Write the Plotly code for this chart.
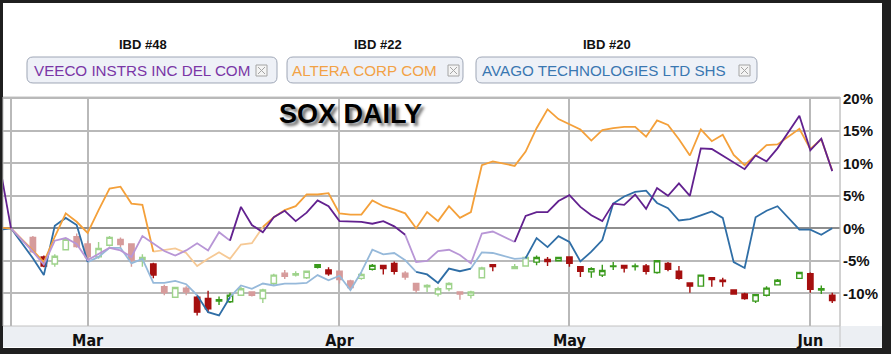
import plotly.graph_objects as go

# ---------------- data ----------------
FEB = [17, 18, 22, 23, 24, 25, 28]
MAR = [1, 2, 3, 4, 7, 8, 9, 10, 11, 14, 15, 16, 17, 18, 21, 22, 23, 24, 25, 28, 29, 30, 31]
APR = [1, 4, 5, 6, 7, 8, 11, 12, 13, 14, 15, 18, 19, 20, 21, 25, 26, 27, 28, 29]
MAY = [2, 3, 4, 5, 6, 9, 10, 11, 12, 13, 16, 17, 18, 19, 20, 23, 24, 25, 26, 27, 31]
JUN = [1, 2, 3]
DATES = ([f"2011-02-{d:02d}" for d in FEB] + [f"2011-03-{d:02d}" for d in MAR] +
         [f"2011-04-{d:02d}" for d in APR] + [f"2011-05-{d:02d}" for d in MAY] +
         [f"2011-06-{d:02d}" for d in JUN])

# % change, VEECO INSTRS INC DEL COM
VEECO = ([9.4, 0, -3.6, -5.6, -1.9, -1.5, -2.4] +
         [-4.9, -4.0, -3.0, -3.4, -4.4, -1.2, -2.4, -3.5, -4.2, -3.4, -2.3, -3.4, -0.6, -1.9,
          3.3, 0.5, -0.6, 1.7, 2.7, 1.1, 2.4, 4.3, 3.4] +
         [1.1, 1.1, 1.0, 0.7, 1.1, 0.3, -1.0, -5.2, -5.0, -3.5, -3.3, -4.1, -5.4, -0.8, -0.5,
          -2.1, 1.9, 2.5, 2.5, 4.2] +
         [5.1, 3.3, 2.0, 1.1, 3.8, 3.6, 5.2, 3.0, 6.2, 5.0, 6.9, 5.0, 12.3, 12.2, 11.2, 10.2,
          9.1, 11.2, 10.3, 12.3, 17.3] +
         [12.0, 13.8, 8.8])
# % change, ALTERA CORP COM
ALTERA = ([0.1, 0, -3.4, -5.2, -1.3, 2.3, 1.0] +
          [-0.7, 2.8, 6.1, 6.4, 3.8, 3.6, -3.6, -3.3, -3.1, -3.8, -5.8, -4.7, -3.7, -4.7,
           -2.5, -2.3, 0.2, 1.7, 2.8, 3.4, 5.2, 5.2, 5.4] +
          [2.3, 2.1, 2.1, 4.3, 3.4, 2.9, 2.3, 0.0, 2.5, 1.1, 3.4, 1.6, 2.5, 9.7, 10.3, 9.6,
           11.8, 15.4, 18.3, 16.8] +
          [16.0, 15.2, 13.5, 15.1, 15.4, 15.6, 15.6, 14.1, 16.6, 15.9, 13.7, 11.2, 15.2, 13.4,
           14.4, 11.3, 9.7, 11.3, 12.8, 12.9, 15.3] +
          [12.2, 13.7, 8.9])
# % change, AVAGO TECHNOLOGIES LTD SHS
AVAGO = ([-0.2, 0, -4.6, -7.2, 0.4, 1.6, 0.5] +
         [-5.2, -4.4, -3.0, -3.0, -5.4, -4.7, -8.4, -8.4, -8.1, -8.6, -10.3, -12.9, -13.4,
          -10.6, -8.8, -9.3, -8.5, -8.8, -8.5, -8.5, -8.4, -7.2, -8.0] +
         [-7.3, -9.5, -6.7, -3.3, -4.0, -3.8, -4.9, -6.7, -7.1, -8.4, -6.2, -6.6, -6.2, -3.7,
          -3.8, -4.7, -4.6, -1.5, -2.9, -1.2] +
         [-2.1, -5.1, -3.6, -1.8, 3.8, 4.9, 5.6, 5.8, 3.9, 3.1, 1.2, 1.4, 2.0, 2.6, 1.6, -5.2,
          -6.1, 1.7, 2.7, 3.4, -0.2] +
         [-0.2, -1.0, 0.0])

# SOX daily candles (same % scale), from Feb 22
SOX_DATES = DATES[2:]
SOX_OPEN = ([-1.4, -4.4, -5.5, -3.3, -1.3] +
            [-2.4, -4.4, -2.6, -1.7, -2.4, -4.8, -5.5, -9.0, -10.6, -9.2, -10.6, -10.8, -11.2,
             -11.3, -10.3, -9.8, -10.8, -8.5, -6.9, -7.2, -7.6, -6.0, -6.4] +
            [-6.6, -8.1, -7.7, -6.3, -5.7, -5.4, -6.9, -8.5, -9.0, -10.1, -9.3, -9.8, -10.3,
             -7.6, -5.6, -6.2, -5.8, -5.2, -4.8, -5.0] +
            [-4.4, -5.9, -6.7, -7.2, -5.9, -5.7, -5.9, -5.8, -6.8, -5.4, -6.6, -8.4, -8.9,
             -7.6, -8.0, -9.5, -10.1, -11.2, -10.3, -8.7, -7.7] +
            [-7.0, -9.5, -10.3])
SOX_HIGH = ([-1.2, -4.2, -4.0, -1.6, -0.8] +
            [-1.9, -2.1, -1.2, -1.4, -2.3, -4.0, -5.3, -8.7, -9.0, -8.9, -10.4, -9.6, -10.5,
             -9.9, -9.0, -9.7, -9.3, -7.0, -6.4, -6.6, -6.5, -5.5, -6.0] +
            [-6.5, -7.9, -6.8, -5.5, -5.6, -5.1, -6.6, -8.4, -8.6, -9.0, -8.3, -9.8, -9.6,
             -5.9, -5.5, -5.5, -4.3, -4.2, -4.4, -4.4] +
            [-4.3, -5.8, -6.0, -5.6, -5.2, -5.7, -5.4, -5.5, -4.9, -5.2, -5.8, -8.3, -7.1,
             -7.6, -7.6, -9.4, -9.9, -10.1, -8.9, -7.8, -6.7] +
            [-6.8, -8.8, -9.9])
SOX_LOW = ([-3.8, -6.0, -5.9, -3.4, -3.0] +
           [-4.9, -4.7, -2.8, -3.0, -5.9, -5.9, -7.7, -10.3, -10.7, -10.3, -13.4, -13.0, -11.8,
            -11.5, -10.4, -10.5, -11.5, -8.8, -7.8, -7.4, -7.8, -6.2, -7.3] +
           [-8.5, -9.5, -7.9, -6.5, -7.1, -7.1, -7.9, -9.9, -9.8, -10.5, -9.7, -11.0, -10.8,
            -7.7, -6.6, -6.2, -5.9, -5.7, -5.8, -5.1] +
           [-5.9, -7.5, -7.6, -7.5, -6.4, -6.8, -6.5, -7.1, -7.0, -6.6, -7.9, -9.9, -9.0,
            -9.0, -9.0, -10.2, -11.0, -11.5, -10.5, -8.8, -7.8] +
           [-9.9, -10.1, -11.5])
SOX_CLOSE = ([-3.6, -5.8, -4.3, -1.7, -2.8] +
             [-4.4, -3.1, -1.4, -2.5, -4.9, -4.5, -7.2, -9.9, -9.1, -9.8, -12.9, -12.4, -11.0,
              -10.3, -9.3, -10.3, -9.5, -7.2, -7.4, -7.0, -6.6, -5.6, -7.0] +
             [-7.9, -9.1, -7.1, -5.7, -6.2, -6.6, -7.5, -9.5, -8.8, -9.3, -8.5, -10.1, -9.8,
              -6.1, -5.9, -5.9, -4.5, -4.5, -5.1, -4.5] +
             [-5.4, -6.6, -6.2, -6.5, -5.8, -6.1, -5.8, -6.6, -5.0, -6.3, -7.7, -8.9, -7.2,
              -7.9, -8.2, -10.1, -10.8, -10.2, -9.2, -8.0, -6.8] +
             [-9.4, -9.3, -11.1])

TICK_DATES = ["2011-02-18", "2011-03-01", "2011-04-01", "2011-05-02", "2011-06-01"]
TICK_TEXT = ["", "Mar", "Apr", "May", "Jun"]
Y_TICKS = [-10, -5, 0, 5, 10, 15, 20]
Y_TEXT = ["-10%", "-5%", "0%", "5%", "10%", "15%", "20%"]
NAMES = ["VEECO INSTRS INC DEL COM", "ALTERA CORP COM", "AVAGO TECHNOLOGIES LTD SHS"]
RANKS = ["IBD #48", "IBD #22", "IBD #20"]
TITLE = "SOX DAILY"

for arr in (VEECO, ALTERA, AVAGO):
    assert len(arr) == len(DATES)
for arr in (SOX_OPEN, SOX_HIGH, SOX_LOW, SOX_CLOSE):
    assert len(arr) == len(SOX_DATES)

# ---------------- styling ----------------
W, H = 891, 354
PL, PR, PT, PB = 3, 840, 97, 326   # plot area in pixels


def px(x):
    return (x - PL) / (PR - PL)


def py(y):
    return (PB - y) / (PB - PT)


COL = {
    "veeco": {"dark": "#62218f", "light": "#b896d6"},
    "altera": {"dark": "#f4a03a", "light": "#f6c995"},
    "avago": {"dark": "#2f6ea6", "light": "#96b9da"},
}
VEECO_SHADE = [("2011-02-17", "2011-02-18", "dark"), ("2011-02-18", "2011-03-18", "light"),
               ("2011-03-18", "2011-04-11", "dark"), ("2011-04-11", "2011-04-25", "light"),
               ("2011-04-25", "2011-06-03", "dark")]
AVAGO_SHADE = [("2011-02-17", "2011-03-01", "dark"), ("2011-03-01", "2011-03-15", "light"),
               ("2011-03-15", "2011-03-18", "dark"), ("2011-03-18", "2011-04-12", "light"),
               ("2011-04-12", "2011-04-19", "dark"), ("2011-04-19", "2011-04-26", "light"),
               ("2011-04-26", "2011-06-03", "dark")]
ALTERA_SHADE = [("2011-02-17", "2011-03-09", "dark"), ("2011-03-09", "2011-03-23", "light"),
                ("2011-03-23", "2011-06-03", "dark")]
FADED = {"2011-02-22", "2011-02-24", "2011-02-25", "2011-02-28", "2011-03-01", "2011-03-02",
         "2011-03-03", "2011-03-04", "2011-03-07", "2011-03-08", "2011-03-10", "2011-03-11",
         "2011-03-14", "2011-03-21", "2011-03-22", "2011-03-23", "2011-03-24", "2011-03-25",
         "2011-03-28", "2011-03-29", "2011-04-01", "2011-04-04", "2011-04-05", "2011-04-11",
         "2011-04-12", "2011-04-13", "2011-04-14", "2011-04-15", "2011-04-18", "2011-04-19",
         "2011-04-20", "2011-04-25", "2011-04-26"}

fig = go.Figure()

# candles
for faded in (True, False):
    idx = [k for k, d in enumerate(SOX_DATES) if (d in FADED) == faded]
    red = "#d69b9b" if faded else "#a50f0f"
    green = "#9fd38c" if faded else "#3a9a1c"
    fig.add_trace(go.Candlestick(
        x=[SOX_DATES[k] for k in idx],
        open=[SOX_OPEN[k] for k in idx], high=[SOX_HIGH[k] for k in idx],
        low=[SOX_LOW[k] for k in idx], close=[SOX_CLOSE[k] for k in idx],
        increasing=dict(line=dict(color=green, width=1.4), fillcolor="white"),
        decreasing=dict(line=dict(color=red, width=1.4), fillcolor=red),
        hoverinfo="skip", showlegend=False))


def add_series(values, shade, cols):
    for shade_kind in ("light", "dark"):
        for (a, b, kind) in shade:
            if kind != shade_kind:
                continue
            idx = [k for k, d in enumerate(DATES) if a <= d <= b]
            fig.add_trace(go.Scatter(
                x=[DATES[k] for k in idx], y=[values[k] for k in idx], mode="lines",
                line=dict(color=cols[kind], width=1.8), hoverinfo="skip", showlegend=False))


add_series(AVAGO, AVAGO_SHADE, COL["avago"])
add_series(ALTERA, ALTERA_SHADE, COL["altera"])
add_series(VEECO, VEECO_SHADE, COL["veeco"])

shapes = []
# inner white page
shapes.append(dict(type="rect", xref="paper", yref="paper", x0=px(3), x1=px(882),
                   y0=py(348), y1=py(3), fillcolor="white", line=dict(width=0), layer="below"))
# axis strip
shapes.append(dict(type="rect", xref="paper", yref="paper", x0=px(3), x1=px(882),
                   y0=py(347), y1=py(PB), fillcolor="#eceff3", line=dict(width=0), layer="below"))
# plot frame
shapes.append(dict(type="rect", xref="paper", yref="paper", x0=0, x1=1, y0=0, y1=1,
                   line=dict(color="#c2c2c2", width=1), layer="below"))
shapes.append(dict(type="line", xref="paper", yref="paper", x0=1, x1=1, y0=py(347), y1=1,
                   line=dict(color="#c2c2c2", width=1)))


def rrect(x0, y0, x1, y1, r):
    pts = [("M", x0 + r, y0), ("L", x1 - r, y0), ("Q", x1, y0, x1, y0 + r), ("L", x1, y1 - r),
           ("Q", x1, y1, x1 - r, y1), ("L", x0 + r, y1), ("Q", x0, y1, x0, y1 - r),
           ("L", x0, y0 + r), ("Q", x0, y0, x0 + r, y0)]
    s = ""
    for p in pts:
        if p[0] == "Q":
            s += f"Q{px(p[1]):.5f},{py(p[2]):.5f} {px(p[3]):.5f},{py(p[4]):.5f} "
        else:
            s += f"{p[0]}{px(p[1]):.5f},{py(p[2]):.5f} "
    return s + "Z"


LEG_BOX = [(27, 277), (287, 463), (476, 757)]
LEG_TEXT_X = [32, 290, 480]
LEG_ICON_X = [256, 448, 739]
LEG_COL = ["#7a36a6", "#f2a246", "#3a77b1"]
RANK_X = [143, 378, 607]

annotations = []
for k in range(3):
    x0, x1 = LEG_BOX[k]
    shapes.append(dict(type="path", xref="paper", yref="paper", path=rrect(x0, 57, x1, 83, 6),
                       fillcolor="#eef1f7", line=dict(color="#9ea6b6", width=1)))
    ix = LEG_ICON_X[k]
    shapes.append(dict(type="rect", xref="paper", yref="paper", x0=px(ix), x1=px(ix + 11),
                       y0=py(76), y1=py(65), fillcolor="#f4f4f4",
                       line=dict(color="#a4a4a4", width=1)))
    shapes.append(dict(type="line", xref="paper", yref="paper", x0=px(ix + 2), x1=px(ix + 9),
                       y0=py(67), y1=py(74), line=dict(color="#a4a4a4", width=1)))
    shapes.append(dict(type="line", xref="paper", yref="paper", x0=px(ix + 2), x1=px(ix + 9),
                       y0=py(74), y1=py(67), line=dict(color="#a4a4a4", width=1)))
    annotations.append(dict(text=NAMES[k], xref="paper", yref="paper", x=px(LEG_TEXT_X[k]),
                            y=py(70), xanchor="left", yanchor="middle", showarrow=False,
                            font=dict(family="Liberation Sans, Arial, sans-serif", size=15.2,
                                      color=LEG_COL[k])))
    annotations.append(dict(text=RANKS[k], xref="paper", yref="paper", x=px(RANK_X[k]),
                            y=py(45), xanchor="center", yanchor="middle", showarrow=False,
                            font=dict(family="Liberation Sans, Arial, sans-serif", size=13,
                                      color="#111111", weight=700)))

annotations.append(dict(text=TITLE, xref="paper", yref="paper", x=px(350), y=py(114),
                        xanchor="center", yanchor="middle", showarrow=False,
                        font=dict(family="Liberation Sans, Arial, sans-serif", size=27,
                                  color="#000000", weight=700,
                                  shadow="3px 3px 3px rgba(0,0,0,0.55)")))

fig.update_layout(
    width=W, height=H,
    margin=dict(l=PL, r=W - PR, t=PT, b=H - PB, pad=0),
    paper_bgcolor="#1f1f1f", plot_bgcolor="white",
    showlegend=False,
    shapes=shapes, annotations=annotations,
    xaxis=dict(type="date", range=["2011-02-17 06:30", "2011-06-03 17:00"],
               rangebreaks=[dict(bounds=["sat", "mon"])],
               rangeslider=dict(visible=False),
               tickvals=TICK_DATES, ticktext=TICK_TEXT, ticks="",
               showgrid=True, gridcolor="#b9b9b9", gridwidth=1.5,
               zeroline=False, showline=False, ticklabelstandoff=3,
               tickfont=dict(family="Liberation Sans Narrow, Arial Narrow, DejaVu Sans Condensed, sans-serif",
                             size=16, color="#111111", weight=700)),
    yaxis=dict(side="right", range=[-15.03, 20.2], tickvals=Y_TICKS, ticktext=Y_TEXT,
               ticks="", showgrid=True, gridcolor="#b9b9b9", gridwidth=1.5,
               zeroline=True, zerolinecolor="#8e8e8e", zerolinewidth=1.5,
               showline=False, ticklabelstandoff=2,
               tickfont=dict(family="Liberation Sans, Arial, sans-serif", size=15,
                             color="#111111", weight=700)),
)

fig.write_html("out.html")
